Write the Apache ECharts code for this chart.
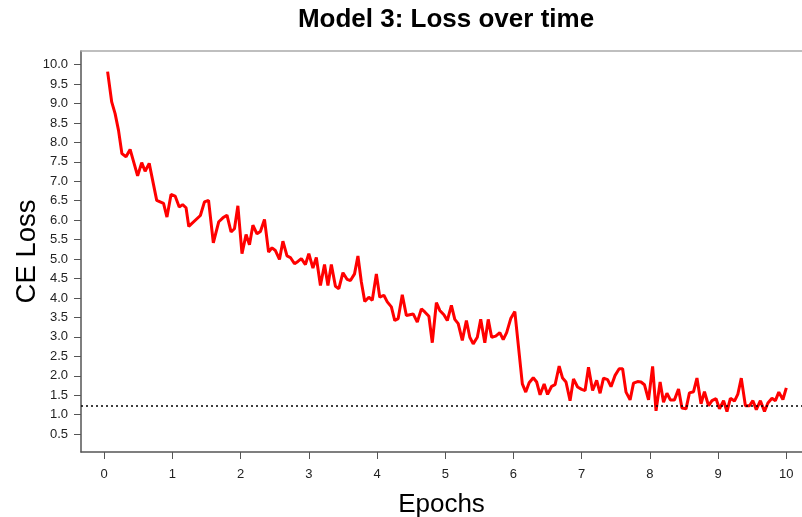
<!DOCTYPE html>
<html>
<head>
<meta charset="utf-8">
<script src="https://cdn.jsdelivr.net/npm/echarts@6/dist/echarts.min.js"></script>
<style>
  html, body { margin: 0; padding: 0; background: #fff; }
  #chart { width: 802px; height: 517px; }
</style>
</head>
<body>
<div id="chart"></div>
<script>
// values
var epochs = [
  0.05, 0.11, 0.16, 0.21, 0.26, 0.32, 0.38, 0.49, 0.55, 0.60, 0.66, 0.77, 0.87, 0.92, 0.98,
  1.04, 1.10, 1.15, 1.20, 1.24, 1.41, 1.47, 1.53, 1.60, 1.68, 1.74, 1.80, 1.86, 1.91, 1.96,
  2.02, 2.08, 2.13, 2.18, 2.24, 2.29, 2.35, 2.41, 2.46, 2.51, 2.57, 2.62, 2.68, 2.73, 2.79,
  2.84, 2.89, 2.95, 3.00, 3.06, 3.11, 3.17, 3.23, 3.28, 3.33, 3.39, 3.44, 3.50, 3.56, 3.61,
  3.67, 3.72, 3.77, 3.82, 3.88, 3.93, 3.99, 4.04, 4.10, 4.15, 4.21, 4.26, 4.31, 4.37, 4.43,
  4.48, 4.53, 4.59, 4.65, 4.70, 4.76, 4.81, 4.87, 4.92, 4.98, 5.03, 5.09, 5.14, 5.19, 5.25,
  5.31, 5.36, 5.41, 5.47, 5.52, 5.58, 5.63, 5.68, 5.74, 5.80, 5.85, 5.90, 5.96, 6.02, 6.13,
  6.18, 6.23, 6.29, 6.34, 6.39, 6.45, 6.50, 6.56, 6.61, 6.67, 6.72, 6.77, 6.83, 6.88, 6.94,
  7.00, 7.05, 7.10, 7.16, 7.22, 7.27, 7.32, 7.38, 7.43, 7.49, 7.55, 7.60, 7.65, 7.71, 7.76,
  7.82, 7.87, 7.92, 7.98, 8.04, 8.09, 8.15, 8.20, 8.25, 8.30, 8.36, 8.42, 8.47, 8.53, 8.58,
  8.64, 8.69, 8.75, 8.80, 8.86, 8.91, 8.97, 9.02, 9.08, 9.13, 9.18, 9.24, 9.29, 9.34, 9.40,
  9.46, 9.51, 9.56, 9.62, 9.68, 9.73, 9.79, 9.84, 9.89, 9.95, 10.00
];
var loss = [
  9.82, 9.04, 8.74, 8.31, 7.71, 7.63, 7.82, 7.14, 7.48, 7.26, 7.46, 6.51, 6.43, 6.08, 6.66,
  6.62, 6.34, 6.40, 6.32, 5.84, 6.12, 6.47, 6.51, 5.42, 5.96, 6.06, 6.13, 5.70, 5.78, 6.37,
  5.14, 5.63, 5.37, 5.87, 5.65, 5.71, 6.02, 5.18, 5.29, 5.22, 4.99, 5.46, 5.08, 5.04, 4.88,
  4.94, 5.01, 4.86, 5.14, 4.77, 5.04, 4.32, 4.86, 4.32, 4.86, 4.30, 4.24, 4.65, 4.48, 4.45,
  4.62, 5.08, 4.41, 3.91, 4.02, 3.94, 4.62, 4.02, 4.07, 3.90, 3.77, 3.42, 3.47, 4.08, 3.55,
  3.57, 3.59, 3.38, 3.72, 3.64, 3.53, 2.85, 3.88, 3.68, 3.57, 3.42, 3.81, 3.45, 3.34, 2.91,
  3.42, 2.99, 2.82, 2.99, 3.45, 2.85, 3.45, 2.99, 3.02, 3.11, 2.93, 3.11, 3.47, 3.65, 1.79,
  1.58, 1.82, 1.95, 1.84, 1.51, 1.79, 1.52, 1.73, 1.77, 2.25, 1.94, 1.84, 1.36, 1.92, 1.71,
  1.65, 1.62, 2.22, 1.62, 1.88, 1.55, 1.94, 1.90, 1.72, 2.01, 2.18, 2.18, 1.58, 1.38, 1.81,
  1.85, 1.84, 1.77, 1.38, 2.24, 1.10, 1.84, 1.32, 1.55, 1.38, 1.38, 1.66, 1.17, 1.15, 1.56,
  1.59, 1.94, 1.28, 1.59, 1.23, 1.36, 1.41, 1.15, 1.36, 1.08, 1.42, 1.35, 1.53, 1.94, 1.23,
  1.23, 1.36, 1.13, 1.36, 1.08, 1.30, 1.42, 1.36, 1.58, 1.39, 1.69
];
var xTicks = [0, 1, 2, 3, 4, 5, 6, 7, 8, 9, 10];
var yTicks = [0.5, 1, 1.5, 2, 2.5, 3, 3.5, 4, 4.5, 5, 5.5, 6, 6.5, 7, 7.5, 8, 8.5, 9, 9.5, 10];
var targetLoss = 1.22;

var font = '"Liberation Sans", Arial, Helvetica, sans-serif';
var chart = echarts.init(document.getElementById('chart'), null, { renderer: 'canvas' });

var points = epochs.map(function(e, i) { return [e, loss[i]]; });

// the plot box runs past the right edge of the picture, so no right border
var xMin = -0.34, xMax = 10.23;

chart.setOption({
  animation: false,
  backgroundColor: '#fff',
  title: {
    text: 'Model 3: Loss over time',
    left: 441,
    top: 2,
    textAlign: 'center',
    textStyle: { fontFamily: font, fontSize: 26, fontWeight: 'bold', color: '#000' }
  },
  grid: { left: 81, top: 51, bottom: 65, right: 0, show: false, outerBoundsMode: 'none' },
  xAxis: [{
    type: 'value',
    min: xMin,
    max: xMax,
    name: 'Epochs',
    nameLocation: 'middle',
    nameGap: 40,
    nameMoveOverlap: false,
    nameTextStyle: { fontFamily: font, fontSize: 26, color: '#000' },
    axisLine: { show: true, onZero: false, lineStyle: { color: '#555', width: 1.5 } },
    axisTick: { show: true, length: 7, customValues: xTicks, lineStyle: { color: '#555' } },
    axisLabel: {
      customValues: xTicks, margin: 16, fontFamily: font, fontSize: 13, color: '#222'
    },
    splitLine: { show: false }
  }, {
    type: 'value',
    position: 'top',
    min: xMin,
    max: xMax,
    axisLine: { show: true, onZero: false, lineStyle: { color: '#aaa', width: 1.5 } },
    axisTick: { show: false },
    axisLabel: { show: false },
    splitLine: { show: false }
  }],
  yAxis: {
    type: 'value',
    min: 0.04,
    max: 10.35,
    name: 'CE Loss',
    nameLocation: 'middle',
    nameRotate: 90,
    nameGap: 40,
    nameMoveOverlap: false,
    nameTextStyle: { fontFamily: font, fontSize: 27.5, color: '#000' },
    axisLine: { show: true, onZero: false, lineStyle: { color: '#555', width: 1.5 } },
    axisTick: { show: true, length: 7, customValues: yTicks, lineStyle: { color: '#555' } },
    axisLabel: {
      customValues: yTicks, margin: 13, fontFamily: font, fontSize: 13, color: '#222',
      formatter: function(v) { return v.toFixed(1); }
    },
    splitLine: { show: false }
  },
  series: [{
    type: 'line',
    data: points,
    showSymbol: false,
    lineStyle: { color: '#ff0000', width: 3 },
    markLine: {
      silent: true,
      symbol: 'none',
      label: { show: false },
      lineStyle: { color: '#000', type: [2, 3], width: 1.5 },
      data: [{ yAxis: targetLoss }]
    }
  }]
});
</script>
</body>
</html>
